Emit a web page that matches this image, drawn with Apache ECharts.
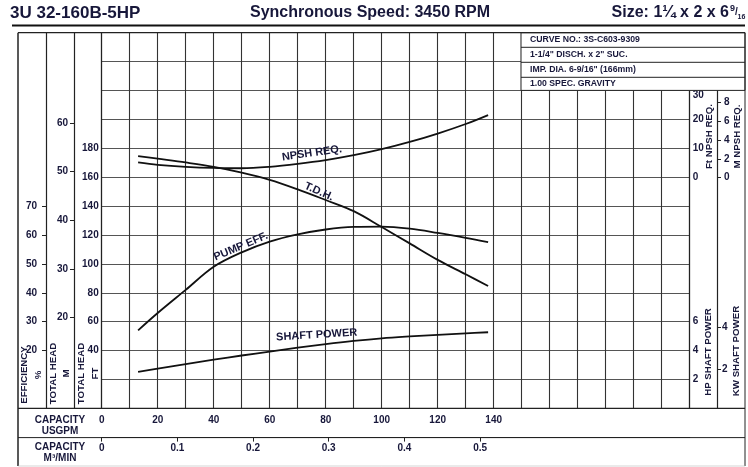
<!DOCTYPE html>
<html><head><meta charset="utf-8">
<script src="https://cdn.jsdelivr.net/npm/echarts@6/dist/echarts.min.js"></script>
<style>html,body{margin:0;padding:0;background:#fff}#c{width:748px;height:467px}</style>
</head><body><div id="c"></div>
<script>
// ---- data ----
const capacityGpm = [13, 20, 30, 40, 50, 60, 70, 80, 90, 100, 110, 120, 130, 138];
const tdhFt      = [174.6, 172.8, 170.2, 167.2, 163.2, 158.2, 151.6, 144.2, 136.5, 125.5, 114.2, 102.8, 92.8, 84.7];
const npshFt     = [5.1, 4.3, 3.6, 3.2, 3.1, 3.6, 4.6, 5.9, 7.6, 9.7, 12.2, 15.1, 18.4, 21.5];
const effPct     = [27, 33, 41, 49, 54, 57.7, 60.2, 61.9, 62.8, 62.9, 62.2, 60.7, 59.0, 57.5];
const shaftHp    = [2.52, 2.75, 3.07, 3.37, 3.66, 3.93, 4.2, 4.45, 4.67, 4.85, 4.98, 5.09, 5.19, 5.27];

const usgpmTicks   = [0, 20, 40, 60, 80, 100, 120, 140];
const m3Ticks      = [0, 0.1, 0.2, 0.3, 0.4, 0.5];
const headFtTicks  = [40, 60, 80, 100, 120, 140, 160, 180];
const headMTicks   = [20, 30, 40, 50, 60];
const effTicks     = [20, 30, 40, 50, 60, 70];
const npshFtTicks  = [0, 10, 20, 30];
const npshMTicks   = [0, 2, 4, 6, 8];
const hpTicks      = [2, 4, 6];
const kwTicks      = [2, 4];

const infoLines = ['CURVE NO.: 3S-C603-9309', '1-1/4" DISCH. x 2" SUC.', 'IMP. DIA. 6-9/16" (166mm)', '1.00 SPEC. GRAVITY'];

// ---- layout ----
const FONT = "'Liberation Sans', Arial, Helvetica, sans-serif";
const INK = '#17173a';
const LINE = '#222';
const L = 101.7, R = 689.7, T = 32.7, B = 408.4;
const W = 748, H = 467;
const X0 = 18, X1 = 745, YSEP = 437.6, YBOT = 466;

function pairs(ys) { return capacityGpm.map((x, i) => [x, ys[i]]); }
function lbl(extra) {
  return Object.assign({ fontSize: 10, fontWeight: 'bold', color: INK, fontFamily: FONT }, extra);
}
function aLine(show) { return { show: show, onZero: false, lineStyle: { color: LINE, width: 1.2 } }; }
function curveName(text, coord, rot) {
  return {
    symbol: 'circle', symbolSize: 0, silent: true,
    label: { show: true, position: 'inside', formatter: text, rotate: rot, fontSize: 11, fontWeight: 'bold', color: INK, fontFamily: FONT },
    data: [{ coord: coord }]
  };
}
function txt(text, x, y, size, opts) {
  opts = opts || {};
  return {
    type: 'text', x: x, y: y, rotation: opts.rot || 0, z: 120,
    style: {
      text: text, fill: opts.fill || INK,
      font: 'bold ' + size + 'px ' + FONT,
      textAlign: opts.align || 'left', align: opts.align || 'left',
      textVerticalAlign: 'middle', verticalAlign: 'middle',
      lineHeight: opts.lh || size * 1.2
    }
  };
}
function ln(x1, y1, x2, y2, w, c) {
  return { type: 'line', z: 110, shape: { x1: x1, y1: y1, x2: x2, y2: y2 }, style: { stroke: c || LINE, lineWidth: w || 1 } };
}

const graphics = [
  txt('3U 32-160B-5HP', 10, 13, 17),
  txt('Synchronous Speed: 3450 RPM', 370, 13, 16, { align: 'center' }),
  txt('Size: 1\u00bc x 2 x 6', 729, 13, 16, { align: 'right' }),
  txt('9', 730, 9, 9),
  txt('/', 735, 12, 10),
  txt('16', 737.5, 17, 7),
  ln(12, 25.5, 745, 25.5, 2, '#111'),
  ln(X0, T, X1, T, 1.2), ln(X0, T, X0, YBOT, 1.5), ln(X1, T, X1, YBOT, 1),
  ln(X0, B, X1, B, 1.2), ln(X0, YSEP, X1, YSEP, 1), ln(X0, YBOT, X1, YBOT, 0.6, '#bbb'),
  { type: 'rect', z: 105, shape: { x: 521, y: T, width: X1 - 521, height: 90.4 - T }, style: { fill: '#fff', stroke: LINE, lineWidth: 1 } },
  ln(521, 47.3, X1, 47.3), ln(521, 62.3, X1, 62.3), ln(521, 77.3, X1, 77.3),
  txt('EFFICIENCY\n%', 31, 375, 9.7, { rot: Math.PI / 2, align: 'center', lh: 14 }),
  txt('TOTAL HEAD\nM', 60, 373.5, 9.7, { rot: Math.PI / 2, align: 'center', lh: 13.5 }),
  txt('TOTAL HEAD\nFT', 88.3, 373.5, 9.7, { rot: Math.PI / 2, align: 'center', lh: 13.5 }),
  txt('Ft NPSH REQ.', 709, 136.5, 9.7, { rot: Math.PI / 2, align: 'center' }),
  txt('M NPSH REQ.', 737, 136.5, 9.7, { rot: Math.PI / 2, align: 'center' }),
  txt('HP SHAFT POWER', 708, 352, 9.7, { rot: Math.PI / 2, align: 'center' }),
  txt('KW SHAFT POWER', 736.5, 351, 9.7, { rot: Math.PI / 2, align: 'center' }),
  txt('CAPACITY\nUSGPM', 60, 425.5, 10, { align: 'center', lh: 11.5 }),
  txt('CAPACITY\nM\u00b3/MIN', 60, 452.5, 10, { align: 'center', lh: 11.5 })
];
infoLines.forEach((s, i) => graphics.push(txt(s, 530, 40 + i * 14.8 - (i === 3 ? 0.8 : 0), 8.7)));

// scale-only axis columns (each sits on its own narrow grid so its ticks land on its column line)
function colGrid(left) { return { left: left, width: 10, top: T, bottom: H - B }; }
function hiddenX(gi) { return { type: 'value', gridIndex: gi, min: 0, max: 1, show: false }; }
function tickAxis(gi, pos, min, max, ticks, margin, showLine) {
  return {
    type: 'value', gridIndex: gi, position: pos, min: min, max: max,
    axisLine: aLine(showLine),
    axisTick: { show: true, customValues: ticks, length: 4, lineStyle: { color: LINE } },
    splitLine: { show: false },
    axisLabel: lbl({ customValues: ticks, margin: margin })
  };
}

const chart = echarts.init(document.getElementById('c'), null, { renderer: 'canvas' });
chart.setOption({
  animation: false,
  backgroundColor: '#fff',
  grid: [
    { left: L, right: W - R, top: T, bottom: H - B },   // 0 main plot
    colGrid(46),                                          // 1 efficiency column
    colGrid(74),                                          // 2 head (m) column
    { right: W - 717, width: 10, top: T, bottom: H - B }, // 3 NPSH m / kW column
    { left: L, right: W - R, top: YSEP - 10, bottom: H - YSEP } // 4 m3/min row
  ],
  xAxis: [
    { type: 'value', gridIndex: 0, min: 0, max: 210, interval: 10, position: 'bottom',
      axisLine: aLine(false), axisTick: { show: false },
      splitLine: { show: true, lineStyle: { color: '#333', width: 1.1 } },
      axisLabel: lbl({ customValues: usgpmTicks, margin: 7 }) },
    hiddenX(1), hiddenX(2), hiddenX(3),
    { type: 'value', gridIndex: 4, min: 0, max: 0.777, position: 'bottom',
      axisLine: aLine(true),
      axisTick: { show: true, customValues: m3Ticks, length: 4, lineStyle: { color: LINE } },
      splitLine: { show: false },
      axisLabel: lbl({ customValues: m3Ticks, margin: 6 }) }
  ],
  yAxis: [
    { type: 'value', gridIndex: 0, min: 0, max: 260, interval: 20, position: 'left',
      axisLine: aLine(true), axisTick: { show: false },
      splitLine: { show: true, lineStyle: { color: '#555', width: 1.1 } },
      axisLabel: lbl({ customValues: headFtTicks, margin: 3 }) },
    { type: 'value', gridIndex: 0, min: 0, max: 130, position: 'left', show: false, axisLine: aLine(false) },
    { type: 'value', gridIndex: 0, min: -80, max: 50, position: 'right',
      axisLine: aLine(true), axisTick: { show: false },
      splitLine: { show: false },
      axisLabel: lbl({ customValues: npshFtTicks, margin: 3,
        formatter: v => (v === 30 ? '{lo|30}' : String(v)),
        rich: { lo: { padding: [10, 0, 0, 0], fontSize: 10, fontWeight: 'bold', color: INK, fontFamily: FONT } } }) },
    { type: 'value', gridIndex: 0, min: 0, max: 26, position: 'right',
      axisLine: aLine(false), axisTick: { show: false }, splitLine: { show: false },
      axisLabel: lbl({ customValues: hpTicks, margin: 3 }) },
    tickAxis(1, 'left', 0, 130, effTicks, 9, true),
    tickAxis(2, 'left', 1.356, 78.54, headMTicks, 6, true),
    tickAxis(3, 'right', -24.7, 15.49, npshMTicks, 7, true),
    tickAxis(3, 'right', 0.138, 18.03, kwTicks, 5, false),
    { type: 'value', gridIndex: 4, min: 0, max: 1, show: false, axisLine: aLine(false) }
  ],
  series: [
    { type: 'line', name: 'T.D.H.', xAxisIndex: 0, yAxisIndex: 0, data: pairs(tdhFt), smooth: 0.35,
      showSymbol: false, lineStyle: { color: '#111', width: 1.8 }, z: 5,
      markPoint: curveName('T.D.H.', [77.6, 149.9], -24) },
    { type: 'line', name: 'NPSH REQ.', xAxisIndex: 0, yAxisIndex: 2, data: pairs(npshFt), smooth: 0.35,
      showSymbol: false, lineStyle: { color: '#111', width: 1.8 }, z: 5,
      markPoint: curveName('NPSH REQ.', [75.1, 8.3], 8) },
    { type: 'line', name: 'PUMP EFF.', xAxisIndex: 0, yAxisIndex: 1, data: pairs(effPct), smooth: 0.35,
      showSymbol: false, lineStyle: { color: '#111', width: 1.8 }, z: 5,
      markPoint: curveName('PUMP EFF.', [49.7, 56.0], 23) },
    { type: 'line', name: 'SHAFT POWER', xAxisIndex: 0, yAxisIndex: 3, data: pairs(shaftHp), smooth: 0.35,
      showSymbol: false, lineStyle: { color: '#111', width: 1.8 }, z: 5,
      markPoint: curveName('SHAFT POWER', [76.8, 5.08], 3.5) }
  ],
  graphic: graphics
});
</script>
</body></html>
